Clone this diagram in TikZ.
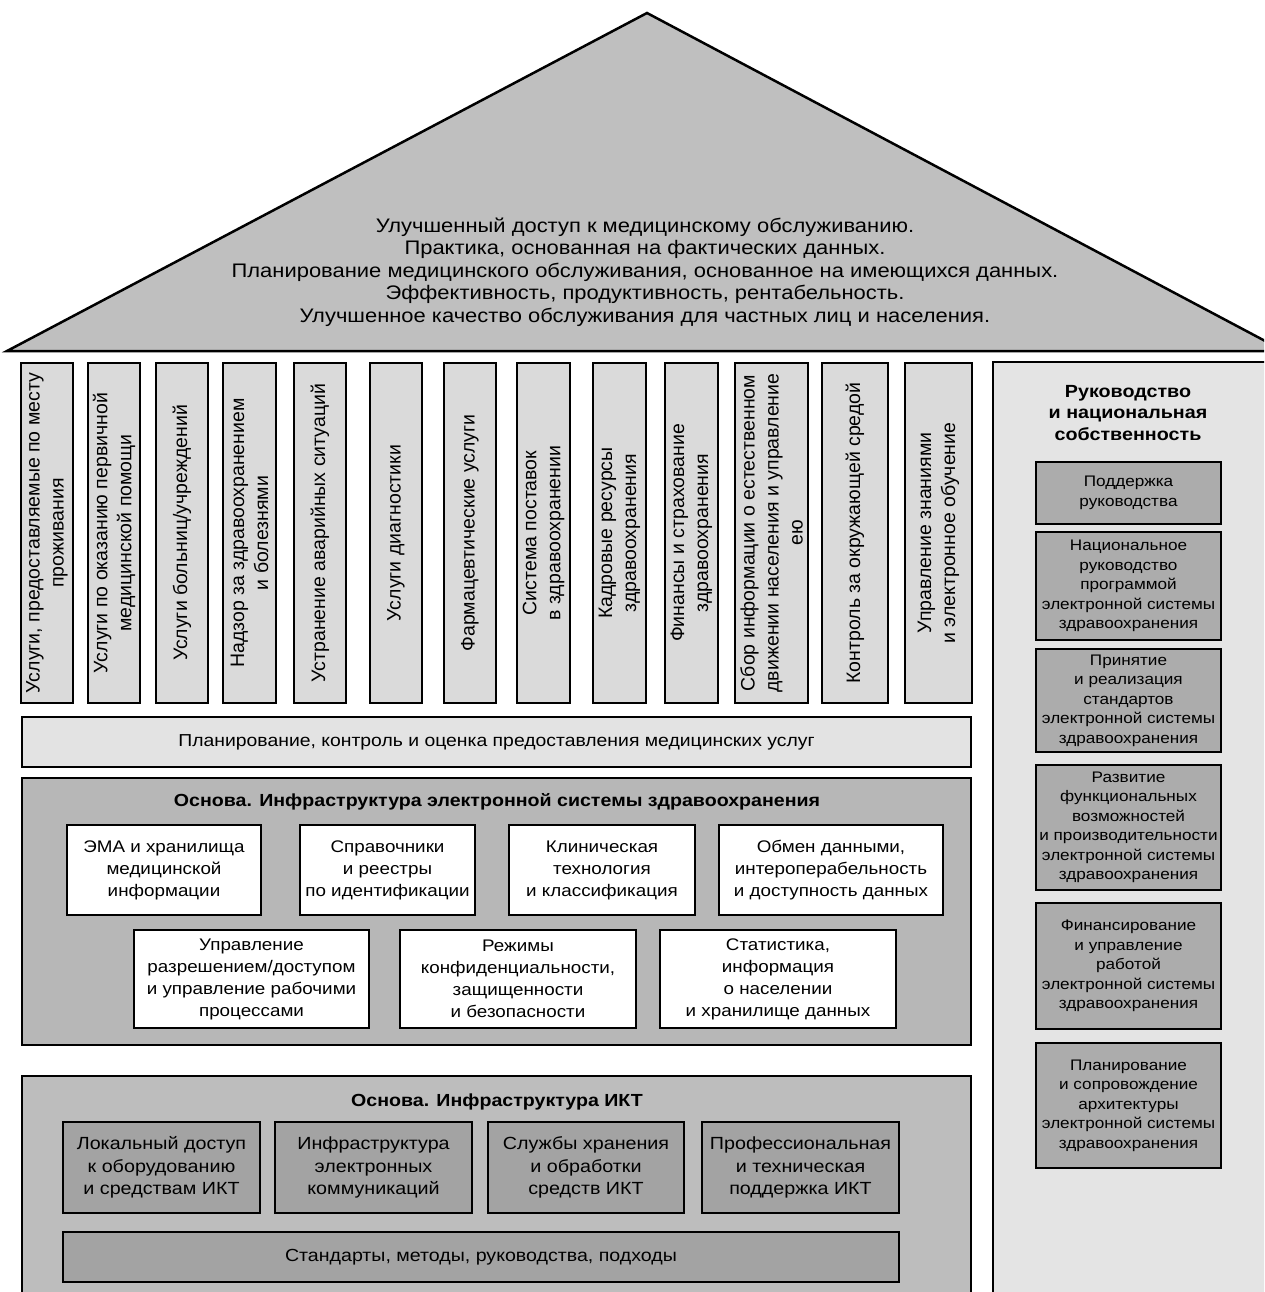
\documentclass[tikz,border=0pt]{standalone}
\usepackage{fontspec}
\setmainfont{Liberation Sans}[FakeStretch=1.12]
\newfontfamily\rotfont{Liberation Sans}
\definecolor{roofc}{HTML}{BFBFBF}
\definecolor{pillarc}{HTML}{DADADA}
\definecolor{planc}{HTML}{E3E3E3}
\definecolor{ehc}{HTML}{B7B7B7}
\definecolor{ictc}{HTML}{BDBDBD}
\definecolor{darkc}{HTML}{A3A3A3}
\definecolor{colc}{HTML}{E4E4E4}
\definecolor{rboxc}{HTML}{ACACAC}
\tikzset{
  box/.style={draw=black, line width=2.5pt, align=center, inner sep=0pt},
  pillar/.style={box, fill=pillarc, rotate=90, minimum width=340pt, font=\rotfont\fontsize{19.5}{24}\selectfont},
  wbox/.style={box, fill=white, font=\fontsize{16.8}{22}\selectfont},
  dbox/.style={box, fill=darkc, minimum width=197pt, minimum height=91pt, font=\fontsize{17.6}{22.5}\selectfont},
  rbox/.style={box, fill=rboxc, minimum width=185pt, font=\fontsize{15.3}{19.5}\selectfont},
  container/.style={draw=black, line width=2.5pt, inner sep=0pt},
  titletext/.style={font=\bfseries\fontsize{17.5}{21}\selectfont, align=center},
}
\begin{document}
\begin{tikzpicture}[x=1pt,y=-1pt]
\path[use as bounding box] (0,0) rectangle (1264,1292);
\clip (0,0) rectangle (1264,1292);
% roof
\draw[fill=roofc, line width=2.5pt, line join=miter] (7,351) -- (647,13) -- (1284,351) -- cycle;
\node[font=\fontsize{19.6}{22.5}\selectfont, align=center] (goals) at (645,272)
 {Улучшенный доступ к медицинскому обслуживанию.\\
  Практика, основанная на фактических данных.\\
  Планирование медицинского обслуживания, основанное на имеющихся данных.\\
  Эффективность, продуктивность, рентабельность.\\
  Улучшенное качество обслуживания для частных лиц и населения.};
% right column
\node[container, fill=colc, minimum width=287pt, minimum height=938pt] (gov) at (1136.5,831) {};
\node[titletext, font=\bfseries\fontsize{17.6}{21.7}\selectfont] (govt) at (1128,413) {Руководство\\и национальная\\собственность};
\node[rbox, minimum height=62pt] (r1) at (1128.5,493) {Поддержка\\руководства};
\node[rbox, minimum height=108pt] (r2) at (1128.5,586) {Национальное\\руководство\\программой\\электронной системы\\здравоохранения};
\node[rbox, minimum height=103pt] (r3) at (1128.5,700.5) {Принятие\\и реализация\\стандартов\\электронной системы\\здравоохранения};
\node[rbox, minimum height=125pt] (r4) at (1128.5,827.5) {Развитие\\функциональных\\возможностей\\и производительности\\электронной системы\\здравоохранения};
\node[rbox, minimum height=126pt] (r5) at (1128.5,966) {Финансирование\\и управление\\работой\\электронной системы\\здравоохранения};
\node[rbox, minimum height=125pt] (r6) at (1128.5,1105.5) {Планирование\\и сопровождение\\архитектуры\\электронной системы\\здравоохранения};
% pillars
\node[pillar, minimum height=52pt] (p1) at (47,533) {Услуги, предоставляемые по месту\\проживания};
\node[pillar, minimum height=52pt] (p2) at (114,533) {Услуги по оказанию первичной\\медицинской помощи};
\node[pillar, minimum height=52pt] (p3) at (182,533) {Услуги больниц/учреждений};
\node[pillar, minimum height=53pt] (p4) at (249.5,533) {Надзор за здравоохранением\\и болезнями};
\node[pillar, minimum height=52pt] (p5) at (320,533) {Устранение аварийных ситуаций};
\node[pillar, minimum height=52pt] (p6) at (396,533) {Услуги диагностики};
\node[pillar, minimum height=52pt] (p7) at (470,533) {Фармацевтические услуги};
\node[pillar, minimum height=53pt] (p8) at (543.5,533) {Система поставок\\в здравоохранении};
\node[pillar, minimum height=53pt] (p9) at (619.5,533) {Кадровые ресурсы\\здравоохранения};
\node[pillar, minimum height=53pt] (p10) at (691.5,533) {Финансы и страхование\\здравоохранения};
\node[pillar, minimum height=73pt] (p11) at (771.5,533) {Сбор информации о естественном\\движении населения и управление\\ею};
\node[pillar, minimum height=66pt] (p12) at (855,533) {Контроль за окружающей средой};
\node[pillar, minimum height=67pt] (p13) at (938.5,533) {Управление знаниями\\и электронное обучение};
% planning bar
\node[box, fill=planc, minimum width=949pt, minimum height=50pt, font=\fontsize{17.3}{21}\selectfont] (plan) at (496.5,742) {Планирование, контроль и оценка предоставления медицинских услуг};
% e-health infrastructure
\node[container, fill=ehc, minimum width=949pt, minimum height=267pt] (eh) at (496.5,911.5) {};
\node[titletext] (eht) at (497,802) {Основа. Инфраструктура электронной системы здравоохранения};
\node[wbox, minimum width=194pt, minimum height=90pt] (b1) at (164,870) {ЭМА и хранилища\\медицинской\\информации};
\node[wbox, minimum width=175pt, minimum height=90pt] (b2) at (387.5,870) {Справочники\\и реестры\\по идентификации};
\node[wbox, minimum width=186pt, minimum height=90pt] (b3) at (602,870) {Клиническая\\технология\\и классификация};
\node[wbox, minimum width=224pt, minimum height=90pt] (b4) at (831,870) {Обмен данными,\\интероперабельность\\и доступность данных};
\node[wbox, minimum width=235pt, minimum height=98pt] (b5) at (251.5,979) {Управление\\разрешением/доступом\\и управление рабочими\\процессами};
\node[wbox, minimum width=236pt, minimum height=98pt] (b6) at (518,979) {Режимы\\конфиденциальности,\\защищенности\\и безопасности};
\node[wbox, minimum width=236pt, minimum height=98pt] (b7) at (778,979) {Статистика,\\информация\\о населении\\и хранилище данных};
% ICT infrastructure
\node[container, fill=ictc, minimum width=949pt, minimum height=224pt] (ict) at (496.5,1188) {};
\node[titletext] (ictt) at (497,1102) {Основа. Инфраструктура ИКТ};
\node[dbox] (c1) at (161.5,1167.5) {Локальный доступ\\к оборудованию\\и средствам ИКТ};
\node[dbox] (c2) at (373.5,1167.5) {Инфраструктура\\электронных\\коммуникаций};
\node[dbox, minimum width=196pt] (c3) at (586,1167.5) {Службы хранения\\и обработки\\средств ИКТ};
\node[dbox] (c4) at (800.5,1167.5) {Профессиональная\\и техническая\\поддержка ИКТ};
\node[box, fill=darkc, minimum width=836pt, minimum height=50pt, font=\fontsize{17.5}{21}\selectfont] (std) at (481,1257) {Стандарты, методы, руководства, подходы};
\end{tikzpicture}
\end{document}
